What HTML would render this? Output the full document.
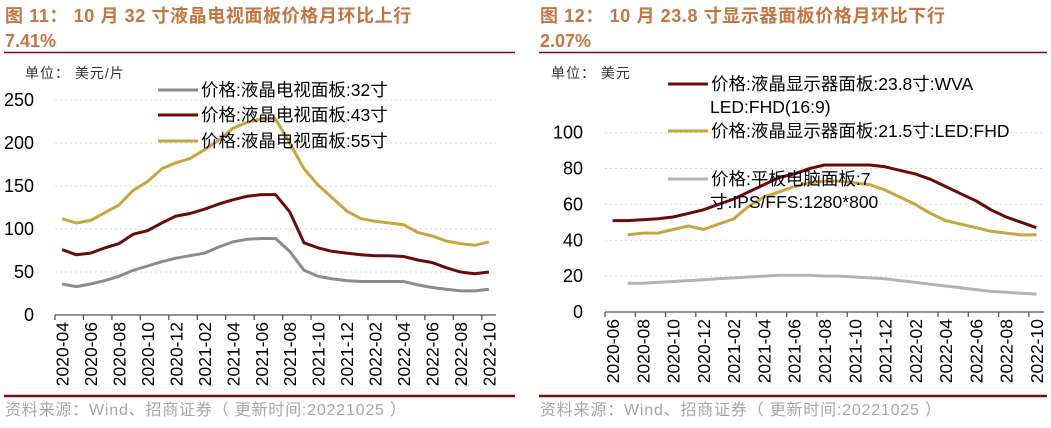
<!DOCTYPE html>
<html><head><meta charset="utf-8">
<style>
body{margin:0;background:#fff;width:1051px;height:423px;overflow:hidden;font-family:"Liberation Sans","Noto Sans CJK SC",sans-serif}
svg text{font-family:"Liberation Sans","Noto Sans CJK SC",sans-serif}
</style></head>
<body>
<svg id="s" width="1051" height="423" xmlns="http://www.w3.org/2000/svg">
<text x="5" y="22" font-size="18" font-weight="bold" fill="#C47541" letter-spacing="0.6">图 11： 10 月 32 寸液晶电视面板价格月环比上行</text>
<text x="5" y="47" font-size="18" font-weight="bold" fill="#C47541">7.41%</text>
<text x="540" y="22" font-size="18" font-weight="bold" fill="#C47541" letter-spacing="0.6">图 12： 10 月 23.8 寸显示器面板价格月环比下行</text>
<text x="540" y="47" font-size="18" font-weight="bold" fill="#C47541">2.07%</text>
<line x1="4" y1="52.5" x2="515" y2="52.5" stroke="#7B0C0C" stroke-width="1.5"/>
<line x1="539" y1="52.5" x2="1047" y2="52.5" stroke="#7B0C0C" stroke-width="1.5"/>
<line x1="4" y1="396" x2="515" y2="396" stroke="#7B0C0C" stroke-width="2.5"/>
<line x1="539" y1="396" x2="1047" y2="396" stroke="#7B0C0C" stroke-width="2.5"/>
<text x="5" y="415" font-size="16" fill="#A6A6A6" letter-spacing="0.8">资料来源：Wind、招商证券（ 更新时间:20221025 ）</text>
<text x="540" y="415" font-size="16" fill="#A6A6A6" letter-spacing="0.8">资料来源：Wind、招商证券（ 更新时间:20221025 ）</text>
<text x="25" y="78" font-size="14" fill="#333" letter-spacing="1">单位： 美元/片</text>
<text x="551" y="78" font-size="14" fill="#333" letter-spacing="1">单位： 美元</text>
<g id="L"></g><g id="R"></g>
</svg>
<script>
// Left chart data
const leftMonths = ["2020-04","2020-05","2020-06","2020-07","2020-08","2020-09","2020-10","2020-11","2020-12","2021-01","2021-02","2021-03","2021-04","2021-05","2021-06","2021-07","2021-08","2021-09","2021-10","2021-11","2021-12","2022-01","2022-02","2022-03","2022-04","2022-05","2022-06","2022-07","2022-08","2022-09","2022-10"];
const tv32 = [36,33,36,40,45,52,57,62,66,69,72,79,85,88,89,89,74,52,45,42,40,39,39,39,39,35,32,30,28,28,30];
const tv43 = [76,70,72,78,83,94,98,107,115,118,123,129,134,138,140,140,120,84,78,74,72,70,69,69,68,64,61,55,50,48,50];
const tv55 = [112,107,110,119,128,145,155,170,177,182,192,203,217,224,228,228,200,170,151,136,121,112,109,107,105,96,92,86,83,81,85];
const leftTicks = [0,50,100,150,200,250];
// Right chart data
const rightMonths = ["2020-06","2020-07","2020-08","2020-09","2020-10","2020-11","2020-12","2021-01","2021-02","2021-03","2021-04","2021-05","2021-06","2021-07","2021-08","2021-09","2021-10","2021-11","2021-12","2022-01","2022-02","2022-03","2022-04","2022-05","2022-06","2022-07","2022-08","2022-09","2022-10"];
const mon238 = [51,51,51.5,52,53,55,57,60,63,67,71,75,77,80,82,82,82,82,81,79,77,74,70,66,62,57,53,50,47];
const mon215 = [null,43,44,44,46,48,46,49,52,59,64,67,70,72,73,73,72,71,68,64,60,55,51,49,47,45,44,43,43];
const tab7 = [null,16,16,16.5,17,17.5,18,18.5,19,19.5,20,20.5,20.5,20.5,20,20,19.5,19,18.5,17.5,16.5,15.5,14.5,13.5,12.5,11.5,11,10.5,10];
const rightTicks = [0,20,40,60,80,100];

const NS="http://www.w3.org/2000/svg";
function mk(parent,tag,attrs){const e=document.createElementNS(NS,tag);for(const k in attrs)e.setAttribute(k,attrs[k]);parent.appendChild(e);return e;}

function drawChart(g,cfg){
  const n=cfg.cats.length, bw=(cfg.x1-cfg.x0)/n;
  const xs=i=>cfg.x0+bw*(i+0.5);
  const ys=v=>cfg.y0-(v-0)/(cfg.vmax)*(cfg.y0-cfg.ytop);
  cfg.ticks.forEach(t=>{
    if(t>0){const gl=mk(g,'line',{x1:cfg.x0,x2:cfg.x1,y1:ys(t),y2:ys(t),stroke:'#DADADA','stroke-dasharray':'2,3'});
      
      }
    const tx=mk(g,'text',{x:cfg.labelX,y:ys(t)+6,'font-size':18,'text-anchor':'end',fill:'#000'});
    tx.textContent=t;
    
    
  });
  const ax=mk(g,'line',{x1:cfg.x0,x2:cfg.x1,y1:cfg.y0,y2:cfg.y0,stroke:'#555','stroke-width':1.3});
  
  
  for(let i=0;i<=n;i+=2){
    const tk=mk(g,'line',{x1:cfg.x0+bw*i,x2:cfg.x0+bw*i,y1:cfg.y0,y2:cfg.y0+5,stroke:'#555','stroke-width':1.3});
    
    
    if(i<n){
      const lx=xs(i), ly=cfg.y0+7;
      const tl=mk(g,'text',{x:lx,y:ly,'font-size':17.5,'text-anchor':'end',fill:'#000',transform:`rotate(-90 ${lx} ${ly}) translate(0 6.5)`});
      tl.textContent=cfg.cats[i];
      
      
    }
  }
  cfg.series.forEach(s=>{
    let d='';let started=false;
    s.data.forEach((v,i)=>{if(v==null)return;d+=(started?'L':'M')+xs(i).toFixed(1)+','+ys(v).toFixed(1);started=true;});
    const p=mk(g,'path',{d:d,fill:'none',stroke:s.color,'stroke-width':3,'stroke-linejoin':'round'});
    
    
  });
  cfg.legend.forEach(l=>{
    const ll=mk(g,'line',{x1:l.x,x2:l.x+40,y1:l.y-6,y2:l.y-6,stroke:l.color,'stroke-width':3});
    
    
    l.lines.forEach((t,j)=>{
      const tx=mk(g,'text',{x:j==0?l.x+43:l.x+42,y:l.y+j*23,'font-size':17.5,fill:'#000'});
      tx.textContent=t;
      
      
    });
  });
}
drawChart(document.getElementById('L'),{cats:leftMonths,x0:55,x1:496,y0:315,ytop:100,vmax:250,ticks:leftTicks,labelX:34,
 series:[{name:'series-32-inch',data:tv32,color:'#8C8C8C'},{name:'series-43-inch',data:tv43,color:'#6B0A0A'},{name:'series-55-inch',data:tv55,color:'#C9A43F'}],
 legend:[{x:158,y:96,color:'#8C8C8C',lines:['价格:液晶电视面板:32寸']},{x:158,y:121,color:'#6B0A0A',lines:['价格:液晶电视面板:43寸']},{x:158,y:147,color:'#C9A43F',lines:['价格:液晶电视面板:55寸']}]});
drawChart(document.getElementById('R'),{cats:rightMonths,x0:605,x1:1044,y0:312,ytop:132.7,vmax:100,ticks:rightTicks,labelX:583,
 series:[{name:'series-23-8-inch-monitor',data:mon238,color:'#6B0A0A'},{name:'series-21-5-inch-monitor',data:mon215,color:'#C9A43F'},{name:'series-7-inch-tablet',data:tab7,color:'#B3B3B3'}],
 legend:[{x:668,y:90,color:'#6B0A0A',lines:['价格:液晶显示器面板:23.8寸:WVA','LED:FHD(16:9)']},{x:668,y:137,color:'#C9A43F',lines:['价格:液晶显示器面板:21.5寸:LED:FHD']},{x:668,y:185,color:'#B3B3B3',lines:['价格:平板电脑面板:7','寸:IPS/FFS:1280*800']}]});
</script>
</body></html>
